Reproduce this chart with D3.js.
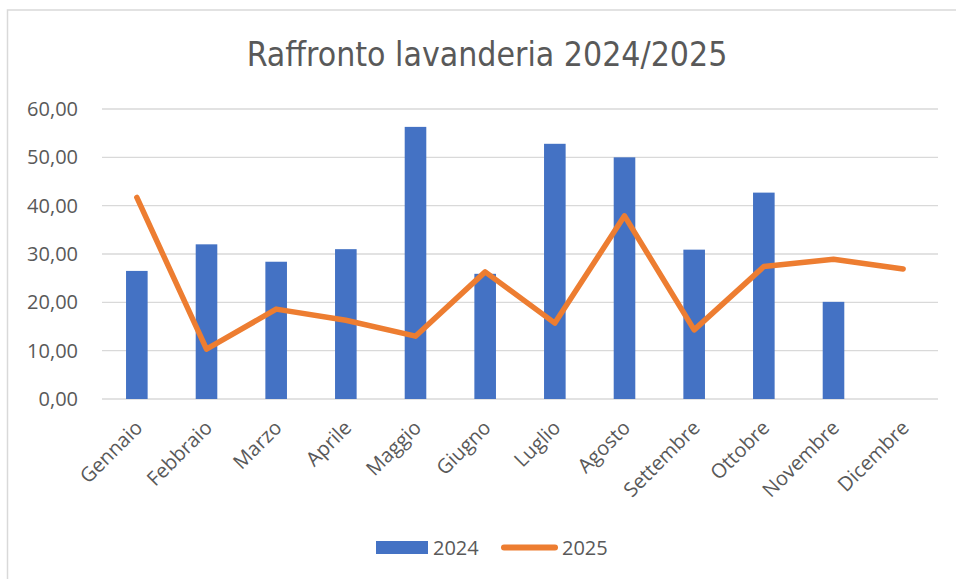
<!DOCTYPE html>
<html>
<head>
<meta charset="utf-8">
<script src="https://cdn.jsdelivr.net/npm/d3@7"></script>
<style>
  html, body { margin: 0; padding: 0; background: #fff; }
  svg { display: block; }
</style>
</head>
<body>
<div id="chart"></div>
<script>
const months = ["Gennaio", "Febbraio", "Marzo", "Aprile", "Maggio", "Giugno",
  "Luglio", "Agosto", "Settembre", "Ottobre", "Novembre", "Dicembre"];
const values2024 = [26.5, 32.0, 28.4, 31.0, 56.3, 25.9, 52.8, 50.0, 30.9, 42.7, 20.1, null];
const values2025 = [41.7, 10.3, 18.6, 16.3, 13.0, 26.3, 15.7, 37.9, 14.3, 27.4, 28.9, 26.9];
const yTicks = [0, 10, 20, 30, 40, 50, 60];
const seriesNames = ["2024", "2025"];

const W = 956, H = 579;
const margin = { top: 109, right: 18, bottom: 180, left: 102 };
const width = W - margin.left - margin.right;
const height = H - margin.top - margin.bottom;

const textColor = "#595959";
const blue = "#4472C4";
const orange = "#ED7D31";

const svg = d3.select("#chart").append("svg")
  .attr("width", W)
  .attr("height", H);

// chart border
svg.append("rect")
  .attr("x", 7.5).attr("y", 10)
  .attr("width", W + 20).attr("height", H + 20)
  .attr("fill", "none")
  .attr("stroke", "#d9d9d9")
  .attr("stroke-width", 1.5);

// title
svg.append("text")
  .attr("x", 487).attr("y", 66)
  .attr("text-anchor", "middle")
  .attr("font-family", "'Liberation Sans Narrow', 'DejaVu Sans Condensed', sans-serif")
  .attr("font-size", 33.5)
  .attr("fill", textColor)
  .text("Raffronto lavanderia 2024/2025");

const chart = svg.append("g")
  .attr("transform", `translate(${margin.left},${margin.top})`);

const x = d3.scaleBand()
  .domain(months)
  .range([0, width])
  .paddingInner(0.69)
  .paddingOuter(0.345);

const xc = d => x(d) + x.bandwidth() / 2;

const y = d3.scaleLinear()
  .domain([0, 60])
  .range([height, 0]);

// ================= GRID + Y AXIS =================
chart.append("g")
  .selectAll("line")
  .data(yTicks)
  .join("line")
  .attr("x1", 0).attr("x2", width)
  .attr("y1", d => y(d)).attr("y2", d => y(d))
  .attr("stroke", "#d9d9d9")
  .attr("stroke-width", 1.3);

const yAxis = chart.append("g")
  .call(d3.axisLeft(y).tickValues(yTicks).tickSize(0).tickPadding(24)
    .tickFormat(d => d3.format(".2f")(d).replace(".", ",")));
yAxis.select(".domain").remove();
yAxis.selectAll("text")
  .attr("font-family", "'Open Sans', sans-serif")
  .attr("font-size", 20)
  .attr("fill", textColor);

// ================= BARS =================
chart.append("g")
  .selectAll("rect")
  .data(months.map((m, i) => ({ m, v: values2024[i] })).filter(d => d.v != null))
  .join("rect")
  .attr("x", d => x(d.m))
  .attr("width", x.bandwidth())
  .attr("y", d => y(d.v))
  .attr("height", d => height - y(d.v))
  .attr("fill", blue);

// ================= LINE =================
const line = d3.line()
  .x((d, i) => xc(months[i]))
  .y(d => y(d));

chart.append("path")
  .datum(values2025)
  .attr("d", line)
  .attr("fill", "none")
  .attr("stroke", orange)
  .attr("stroke-width", 5.5)
  .attr("stroke-linejoin", "round")
  .attr("stroke-linecap", "round");

// ================= X LABELS =================
chart.append("g")
  .selectAll("text")
  .data(months)
  .join("text")
  .attr("transform", d => `translate(${xc(d) + 2},${height + 25}) rotate(-45)`)
  .attr("text-anchor", "end")
  .attr("dy", "0.35em")
  .attr("font-family", "'Open Sans', sans-serif")
  .attr("font-size", 20)
  .attr("fill", textColor)
  .text(d => d);

// ================= LEGEND =================
const legend = svg.append("g");
legend.append("rect")
  .attr("x", 376).attr("y", 541)
  .attr("width", 52).attr("height", 13)
  .attr("fill", blue);
legend.append("text")
  .attr("x", 433).attr("y", 555)
  .attr("font-family", "'Open Sans', sans-serif")
  .attr("font-size", 20)
  .attr("fill", textColor)
  .text(seriesNames[0]);
legend.append("line")
  .attr("x1", 504).attr("x2", 555)
  .attr("y1", 547.5).attr("y2", 547.5)
  .attr("stroke", orange)
  .attr("stroke-width", 6)
  .attr("stroke-linecap", "round");
legend.append("text")
  .attr("x", 562).attr("y", 555)
  .attr("font-family", "'Open Sans', sans-serif")
  .attr("font-size", 20)
  .attr("fill", textColor)
  .text(seriesNames[1]);
</script>
</body>
</html>
